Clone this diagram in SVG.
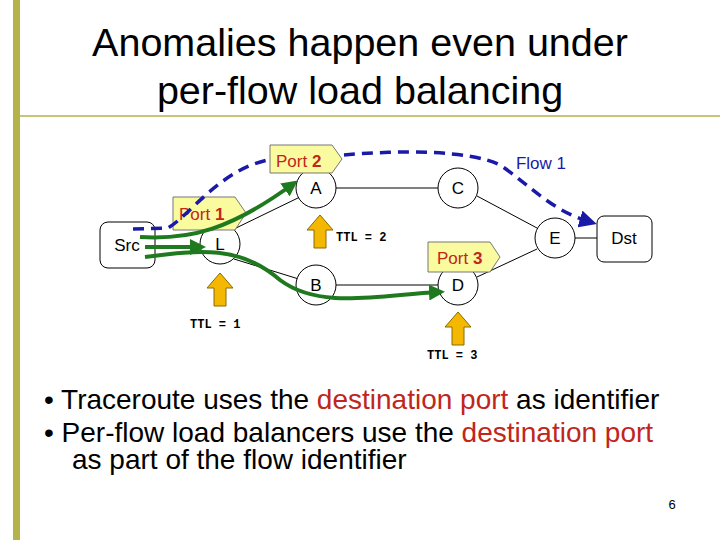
<svg xmlns="http://www.w3.org/2000/svg" width="720" height="540" viewBox="0 0 720 540">
<style>
.n{fill:#fff;stroke:#000;stroke-width:1}
.t{font-family:"Liberation Sans",Arial,sans-serif;font-size:17px;text-anchor:middle}
.ttl{font-family:"Liberation Mono","Courier New",monospace;font-size:12px;font-weight:bold}
.port{fill:#fafa9e;stroke:#777;stroke-width:1}
.pt{font-family:"Liberation Sans",Arial,sans-serif;font-size:17px;fill:#c0261c}
.ya{fill:#f5b800;stroke:#8a6a00;stroke-width:1}
.g{fill:none;stroke:#1f7a1f;stroke-width:4}
.b{fill:none;stroke:#1a1aa8;stroke-width:3.5;stroke-dasharray:11,7}
.li{stroke:#000;stroke-width:1}
.bul{font-family:"Liberation Sans",Arial,sans-serif;font-size:28px}
</style>
<defs>
<marker id="ga" markerWidth="4" markerHeight="4" refX="2.5" refY="2" orient="auto" markerUnits="strokeWidth"><path d="M0,0 L4,2 L0,4 Z" fill="#1f7a1f"/></marker>
<marker id="ba" markerWidth="5" markerHeight="5" refX="3" refY="2.5" orient="auto" markerUnits="strokeWidth"><path d="M0,0 L5,2.5 L0,5 Z" fill="#1a1aa8"/></marker>
</defs>
<rect width="720" height="540" fill="#fff"/>
<rect x="13" y="0" width="7" height="540" fill="#b3b34a"/>
<line x1="20" y1="116" x2="720" y2="116" stroke="#b3b34a" stroke-width="1.5"/>
<text x="360" y="56" class="t" style="font-size:39.5px">Anomalies happen even under</text>
<text x="360" y="104" class="t" style="font-size:39.5px">per-flow load balancing</text>
<g id="links">
<line class="li" x1="234" y1="229" x2="302" y2="196"/>
<line class="li" x1="234" y1="259" x2="302" y2="280"/>
<line class="li" x1="336" y1="188" x2="438" y2="188"/>
<line class="li" x1="336" y1="285" x2="438" y2="285"/>
<line class="li" x1="477" y1="196" x2="537" y2="228"/>
<line class="li" x1="477" y1="277" x2="537" y2="249"/>
<line class="li" x1="575" y1="238" x2="597" y2="238"/>
</g>
<g id="Src"><rect class="n" x="100" y="222" width="55" height="46" rx="8"/><text class="t" x="127" y="251">Src</text></g>
<g id="L"><circle class="n" cx="220" cy="244" r="20"/><text class="t" x="220" y="250">L</text></g>
<g id="A"><circle class="n" cx="316" cy="188" r="20"/><text class="t" x="316" y="194">A</text></g>
<g id="B"><circle class="n" cx="316" cy="285" r="20"/><text class="t" x="316" y="291">B</text></g>
<g id="C"><circle class="n" cx="458" cy="188" r="20"/><text class="t" x="458" y="194">C</text></g>
<g id="D"><circle class="n" cx="458" cy="285" r="20"/><text class="t" x="458" y="291">D</text></g>
<g id="E"><circle class="n" cx="555" cy="238" r="20"/><text class="t" x="555" y="244">E</text></g>
<g id="Dst"><rect class="n" x="597" y="216" width="55" height="46" rx="7"/><text class="t" x="624" y="244">Dst</text></g>
<g id="ports">
<path class="port" d="M173,197 H235 L246,213 L235,230 H173 Z"/><text class="pt" x="179" y="220">Port <tspan font-weight="bold">1</tspan></text>
<path class="port" d="M270,145 H332 L342,159 L332,173 H270 Z"/><text class="pt" x="276" y="167">Port <tspan font-weight="bold">2</tspan></text>
<path class="port" d="M428,242 H490 L500,257 L490,272 H428 Z"/><text class="pt" x="437" y="264">Port <tspan font-weight="bold">3</tspan></text>
</g>
<g id="connectors">
<path class="b" d="M133,229 L168,228 C190,215 220,170 268,160"/>
<path class="b" d="M344,155 C400,150 470,150 500,165 C530,185 550,210 590,222" marker-end="url(#ba)"/>
<path class="g" d="M140,237 C190,240 230,230 293,184" marker-end="url(#ga)"/>
<path class="g" d="M145,247 L200,247" marker-end="url(#ga)"/>
<path class="g" d="M145,257 C200,250 240,245 280,280 C320,310 380,295 439,292" marker-end="url(#ga)"/>
</g>
<g id="ttl">
<path class="ya" d="M214,306 V288 H207 L220,273 L233,288 H226 V306 Z"/>
<path class="ya" d="M314,248 V230 H307 L320,215 L333,230 H326 V248 Z"/>
<path class="ya" d="M452,345 V327 H445 L458,312 L471,327 H464 V345 Z"/>
<text class="ttl" x="190" y="328">TTL = 1</text>
<text class="ttl" x="336" y="241">TTL = 2</text>
<text class="ttl" x="427" y="359">TTL = 3</text>
</g>
<text class="t" x="541" y="169" style="fill:#1a1aa8">Flow 1</text>
<g id="bullets">
<text class="bul" x="44" y="409">• Traceroute uses the <tspan fill="#c0261c">destination port</tspan> as identifier</text>
<text class="bul" x="44" y="442">• Per-flow load balancers use the <tspan fill="#c0261c">destination port</tspan></text>
<text class="bul" x="72" y="469">as part of the flow identifier</text>
</g>
<text class="t" x="672" y="509" style="font-size:13px">6</text>
</svg>
